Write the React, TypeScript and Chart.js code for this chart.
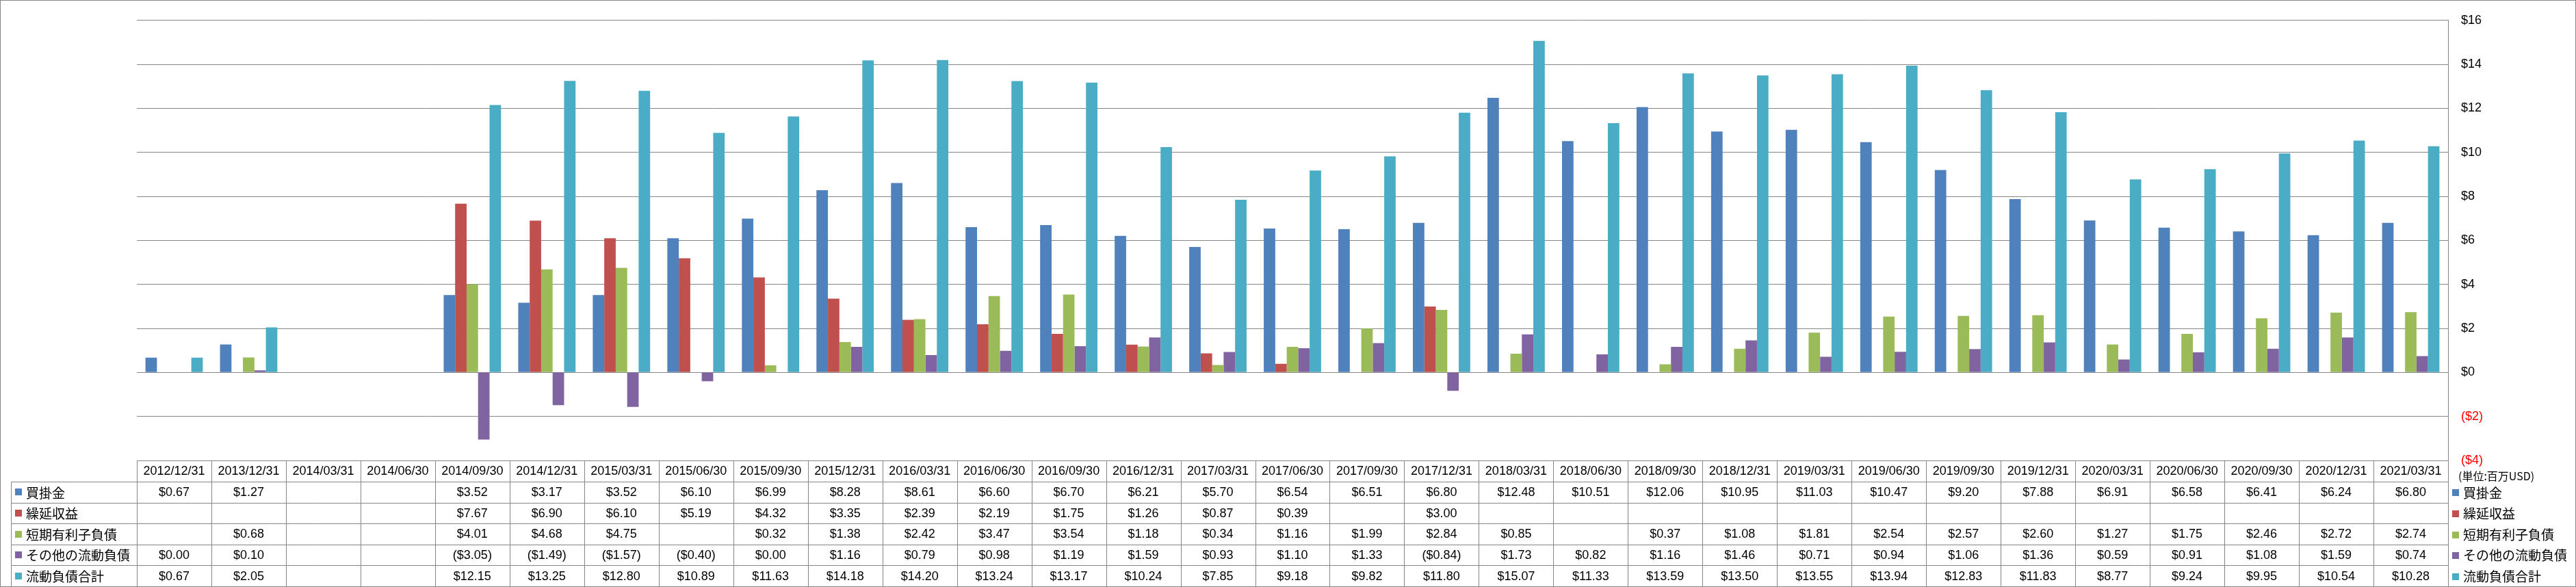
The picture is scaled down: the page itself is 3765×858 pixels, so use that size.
import React, { useEffect, useRef } from "react";
import { Chart, registerables } from "chart.js";

Chart.register(...registerables);

// ---------- data ----------
const categories = [
  "2012/12/31", "2013/12/31", "2014/03/31", "2014/06/30", "2014/09/30", "2014/12/31",
  "2015/03/31", "2015/06/30", "2015/09/30", "2015/12/31", "2016/03/31", "2016/06/30",
  "2016/09/30", "2016/12/31", "2017/03/31", "2017/06/30", "2017/09/30", "2017/12/31",
  "2018/03/31", "2018/06/30", "2018/09/30", "2018/12/31", "2019/03/31", "2019/06/30",
  "2019/09/30", "2019/12/31", "2020/03/31", "2020/06/30", "2020/09/30", "2020/12/31",
  "2021/03/31",
];

const accountsPayable = [
  0.67, 1.27, null, null, 3.52, 3.17, 3.52, 6.10, 6.99, 8.28, 8.61, 6.60, 6.70, 6.21, 5.70, 6.54,
  6.51, 6.80, 12.48, 10.51, 12.06, 10.95, 11.03, 10.47, 9.20, 7.88, 6.91, 6.58, 6.41, 6.24, 6.80,
];
const deferredRevenue = [
  null, null, null, null, 7.67, 6.90, 6.10, 5.19, 4.32, 3.35, 2.39, 2.19, 1.75, 1.26, 0.87, 0.39,
  null, 3.00, null, null, null, null, null, null, null, null, null, null, null, null, null,
];
const shortTermDebt = [
  null, 0.68, null, null, 4.01, 4.68, 4.75, null, 0.32, 1.38, 2.42, 3.47, 3.54, 1.18, 0.34, 1.16,
  1.99, 2.84, 0.85, null, 0.37, 1.08, 1.81, 2.54, 2.57, 2.60, 1.27, 1.75, 2.46, 2.72, 2.74,
];
const otherCurrentLiabilities = [
  0.00, 0.10, null, null, -3.05, -1.49, -1.57, -0.40, 0.00, 1.16, 0.79, 0.98, 1.19, 1.59, 0.93, 1.10,
  1.33, -0.84, 1.73, 0.82, 1.16, 1.46, 0.71, 0.94, 1.06, 1.36, 0.59, 0.91, 1.08, 1.59, 0.74,
];
const totalCurrentLiabilities = [
  0.67, 2.05, null, null, 12.15, 13.25, 12.80, 10.89, 11.63, 14.18, 14.20, 13.24, 13.17, 10.24, 7.85, 9.18,
  9.82, 11.80, 15.07, 11.33, 13.59, 13.50, 13.55, 13.94, 12.83, 11.83, 8.77, 9.24, 9.95, 10.54, 10.28,
];

const seriesNames = ["買掛金", "繰延収益", "短期有利子負債", "その他の流動負債", "流動負債合計"];
const seriesColors = ["#4F81BD", "#C0504D", "#9BBB59", "#8064A2", "#4BACC6"];
const seriesValues = [accountsPayable, deferredRevenue, shortTermDebt, otherCurrentLiabilities, totalCurrentLiabilities];

const yMin = -4;
const yMax = 16;
const yStep = 2;
const unitLabel = "(単位:百万USD)";

// ---------- helpers ----------
const fmtValue = (v: number | null) =>
  v === null || v === undefined ? "" : v < 0 ? `($${Math.abs(v).toFixed(2)})` : `$${v.toFixed(2)}`;
const fmtTick = (v: number) => (v < 0 ? `($${Math.abs(v)})` : `$${v}`);

const W = 3765;
const H = 858;
const LINE = "#868686";
const NUM_FONT = '18px "Liberation Sans", Arial, sans-serif';
const CJK_FONT = '19px "Noto Sans CJK JP", sans-serif';
const UNIT_FONT = '16px "Noto Sans CJK JP", sans-serif';

const tablePlugin = {
  id: "dataTable",
  afterDraw(chart: any) {
    const ctx = chart.ctx as CanvasRenderingContext2D;
    const area = chart.chartArea;
    const xs = chart.scales.x;
    const n = categories.length;
    const colW = xs.getPixelForValue(1) - xs.getPixelForValue(0);
    const tableLeft = xs.getPixelForValue(0) - colW / 2;
    const tableRight = xs.getPixelForValue(n - 1) + colW / 2;
    const top = area.bottom;
    const headerH = 31;
    const rowH = 30.6;
    const labelLeft = 16;
    const bottom = top + headerH + rowH * seriesNames.length;

    ctx.save();
    ctx.strokeStyle = LINE;
    ctx.lineWidth = 1;
    const hline = (x1: number, x2: number, y: number) => {
      const yy = Math.round(y) + 0.5;
      ctx.beginPath();
      ctx.moveTo(x1, yy);
      ctx.lineTo(x2, yy);
      ctx.stroke();
    };
    const vline = (x: number, y1: number, y2: number) => {
      const xx = Math.round(x) + 0.5;
      ctx.beginPath();
      ctx.moveTo(xx, y1);
      ctx.lineTo(xx, y2);
      ctx.stroke();
    };

    // header top
    hline(tableLeft, tableRight, top);
    // row lines
    for (let r = 0; r <= seriesNames.length; r++) {
      hline(labelLeft, tableRight, top + headerH + r * rowH);
    }
    // column lines
    for (let i = 0; i <= n; i++) {
      vline(tableLeft + i * colW, top, bottom);
    }
    vline(labelLeft, top + headerH, bottom);

    // header text
    ctx.fillStyle = "#000";
    ctx.textBaseline = "middle";
    ctx.textAlign = "center";
    ctx.font = NUM_FONT;
    categories.forEach((c, i) => {
      ctx.fillText(c, xs.getPixelForValue(i), top + headerH / 2 + 1);
    });

    // rows
    seriesNames.forEach((name, r) => {
      const cy = top + headerH + r * rowH + rowH / 2;
      ctx.fillStyle = seriesColors[r];
      ctx.fillRect(22, Math.round(cy - 5), 10, 10);
      ctx.fillStyle = "#000";
      ctx.textAlign = "left";
      ctx.font = CJK_FONT;
      ctx.fillText(name, 38, cy + 1);
      ctx.textAlign = "center";
      ctx.font = NUM_FONT;
      seriesValues[r].forEach((v, i) => {
        const s = fmtValue(v as number | null);
        if (s) ctx.fillText(s, xs.getPixelForValue(i), cy + 1);
      });

      // right legend
      ctx.fillStyle = seriesColors[r];
      ctx.fillRect(3584, Math.round(cy - 4), 10, 10);
      ctx.fillStyle = "#000";
      ctx.textAlign = "left";
      ctx.font = CJK_FONT;
      ctx.fillText(name, 3600, cy + 1);
    });

    // unit label
    ctx.font = UNIT_FONT;
    ctx.textAlign = "left";
    ctx.fillStyle = "#000";
    ctx.fillText(unitLabel, 3593, top + 23);

    // outer border
    ctx.strokeStyle = LINE;
    ctx.strokeRect(0.5, 0.5, W - 1, H - 1);
    ctx.restore();
  },
};

export default function App() {
  const canvasRef = useRef<HTMLCanvasElement | null>(null);

  useEffect(() => {
    document.body.style.margin = "0";
    const canvas = canvasRef.current;
    if (!canvas) return;
    const chart = new Chart(canvas, {
      type: "bar",
      data: {
        labels: categories,
        datasets: seriesNames.map((name, i) => ({
          label: name,
          data: seriesValues[i] as (number | null)[],
          backgroundColor: seriesColors[i],
          borderWidth: 0,
          categoryPercentage: 0.769,
          barPercentage: 1,
        })),
      },
      options: {
        responsive: false,
        animation: false,
        devicePixelRatio: 1,
        layout: { padding: { left: 200, top: 13, bottom: 185, right: 0 } },
        plugins: {
          legend: { display: false },
          tooltip: { enabled: false },
          title: { display: false },
        },
        scales: {
          x: {
            type: "category",
            display: false,
            offset: true,
            grid: { display: false },
          },
          y: {
            position: "right",
            min: yMin,
            max: yMax,
            afterFit: (scale: any) => {
              scale.width = 187;
            },
            ticks: {
              stepSize: yStep,
              padding: 19,
              font: { family: '"Liberation Sans", Arial, sans-serif', size: 18 },
              color: (ctx: any) => (ctx.tick && ctx.tick.value < 0 ? "#FF0000" : "#000000"),
              callback: (v: any) => fmtTick(Number(v)),
            },
            grid: {
              color: LINE,
              lineWidth: 1,
              drawTicks: false,
            },
            border: { display: true, color: LINE, width: 1 },
          },
        },
      },
      plugins: [tablePlugin],
    });
    return () => chart.destroy();
  }, []);

  return (
    <div style={{ position: "relative", width: W, height: H, background: "#fff" }}>
      <canvas ref={canvasRef} width={W} height={H} style={{ width: W, height: H, display: "block" }} />
    </div>
  );
}
